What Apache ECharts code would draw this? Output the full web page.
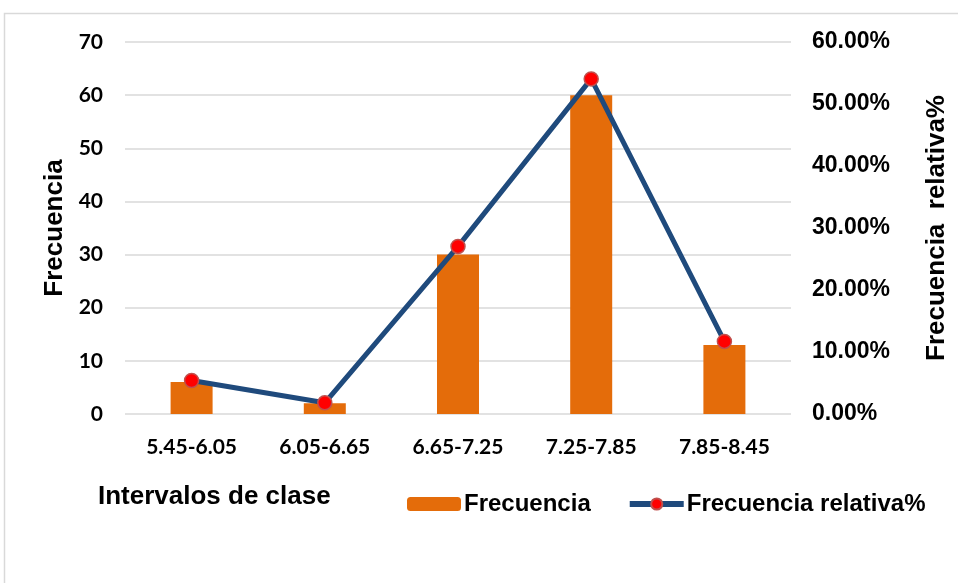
<!DOCTYPE html>
<html>
<head>
<meta charset="utf-8">
<title>Frecuencia por intervalos de clase</title>
<script src="https://cdn.jsdelivr.net/npm/echarts@6/dist/echarts.min.js"></script>
<style>
  html, body { margin: 0; padding: 0; background: #ffffff; }
  #chart { width: 958px; height: 583px; }
</style>
</head>
<body>
<div id="chart"></div>
<script>
// Class intervals and their counts
const intervalos = ['5.45-6.05', '6.05-6.65', '6.65-7.25', '7.25-7.85', '7.85-8.45'];
const frecuencia = [6, 2, 30, 60, 13];
// Relative frequency, in percent
const frecuenciaRelativa = [5.41, 1.80, 27.03, 54.05, 11.71];

const leftTicks = { min: 0, max: 70, interval: 10 };
const rightTicks = { min: 0, max: 60, interval: 10 };

const chart = echarts.init(document.getElementById('chart'));

const gridColor = '#d9d9d9';
const lineColor = '#1F4A7C';
const arial = '"Liberation Sans", Arial, sans-serif';
const calibri = 'Lato, Carlito, Calibri, sans-serif';

chart.setOption({
  animation: false,
  backgroundColor: '#ffffff',
  graphic: [{
    type: 'rect',
    shape: { x: 4.5, y: 13.5, width: 1000, height: 620 },
    style: { fill: 'none', stroke: gridColor, lineWidth: 1.5 },
    silent: true
  }],
  title: {
    text: 'Intervalos de clase',
    left: 93,
    top: 479,
    textStyle: { fontFamily: arial, fontWeight: 'bold', fontSize: 26, color: '#000' }
  },
  legend: {
    left: 402,
    top: 487,
    itemWidth: 54,
    itemHeight: 14,
    itemGap: 36,
    textStyle: { fontFamily: arial, fontWeight: 'bold', fontSize: 24, color: '#000', padding: [0, 0, 0, -2] },
    data: [
      { name: 'Frecuencia' },
      { name: 'Frecuencia relativa%', lineStyle: { width: 6, color: lineColor } }
    ]
  },
  grid: { left: 125, right: 166, top: 42, bottom: 169, containLabel: false },
  xAxis: {
    type: 'category',
    data: intervalos,
    axisLine: { show: false },
    axisTick: { show: false },
    axisLabel: {
      margin: 23,
      fontFamily: calibri, fontWeight: 'bold', fontSize: 21, color: '#000'
    }
  },
  yAxis: [{
    type: 'value',
    min: leftTicks.min, max: leftTicks.max, interval: leftTicks.interval,
    name: 'Frecuencia',
    nameLocation: 'middle',
    nameGap: 54,
    nameTextStyle: { fontFamily: arial, fontWeight: 'bold', fontSize: 26, color: '#000' },
    axisLine: { show: false },
    axisTick: { show: false },
    splitLine: { lineStyle: { color: gridColor, width: 1.5 } },
    axisLabel: {
      margin: 22,
      fontFamily: calibri, fontWeight: 'bold', fontSize: 21, color: '#000'
    }
  }, {
    type: 'value',
    position: 'right',
    min: rightTicks.min, max: rightTicks.max, interval: rightTicks.interval,
    name: 'Frecuencia  relativa%',
    nameLocation: 'middle',
    nameGap: 133,
    nameTextStyle: { fontFamily: arial, fontWeight: 'bold', fontSize: 26, color: '#000' },
    axisLine: { show: false },
    axisTick: { show: false },
    splitLine: { show: false },
    axisLabel: {
      margin: 21,
      fontFamily: arial, fontWeight: 'bold', fontSize: 23, color: '#000',
      formatter: v => v.toFixed(2) + '%'
    }
  }],
  series: [{
    name: 'Frecuencia',
    type: 'bar',
    yAxisIndex: 0,
    barWidth: 42,
    itemStyle: { color: '#E46C0A' },
    data: frecuencia
  }, {
    name: 'Frecuencia relativa%',
    type: 'line',
    yAxisIndex: 1,
    symbol: 'circle',
    symbolSize: 14,
    lineStyle: { color: lineColor, width: 5 },
    itemStyle: { color: '#FF0000', borderColor: '#C0504D', borderWidth: 1.5 },
    data: frecuenciaRelativa,
    z: 3
  }]
});
</script>
</body>
</html>
